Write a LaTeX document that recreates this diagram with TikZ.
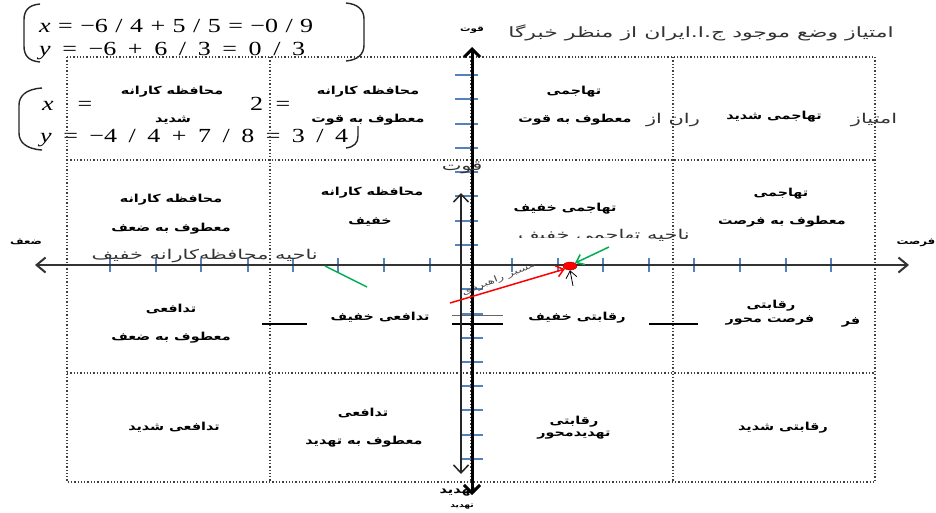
\documentclass[tikz,border=0pt]{standalone}
\usepackage{fontspec}
\TeXXeTstate=1
\newfontfamily\arabicwide[Script=Arabic,FakeStretch=1.3]{DejaVu Sans}
\newfontfamily\arabicplain[Script=Arabic,FakeStretch=1.55]{DejaVu Sans}
\newfontfamily\tnr[FakeStretch=1.3]{Liberation Serif}
\usetikzlibrary{arrows.meta,shapes.geometric}
\newcommand{\RT}[1]{\beginR #1\endR}
\definecolor{tickc}{RGB}{84,130,190}
\definecolor{grn}{RGB}{0,176,80}
\begin{document}
\begin{tikzpicture}[x=1pt,y=-1pt,
  eq/.style={font=\tnr\fontsize{20}{24}\selectfont, inner sep=0, anchor=base west},
  paren/.style={line width=1.4pt, black!85},
  grid/.style={dotted, line width=1.3pt, black!75},
  cell/.style={font=\arabicwide\bfseries\fontsize{11}{13}\selectfont, inner sep=0},
  plain/.style={font=\arabicplain\fontsize{13.5}{15}\selectfont, inner sep=0, black!80},
  tickm/.style={tickc, line width=1.4pt},
  haxis/.style={line width=2pt, black!80, {Straight Barb[length=9pt,width=15pt]}-{Straight Barb[length=9pt,width=15pt]}},
  vthick/.style={line width=3pt, black, {Straight Barb[length=8pt,width=16pt]}-{Straight Barb[length=8pt,width=16pt]}},
  vthin/.style={line width=1.5pt, black!85, {Straight Barb[length=8pt,width=15pt]}-{Straight Barb[length=8pt,width=15pt]}},
  barb/.style={-{Straight Barb[length=7pt,width=11pt]}}
]
\useasboundingbox (0,0) rectangle (936,512);
\fill[white] (0,0) rectangle (936,512);

% equations
\node[eq] (e1a) at (39,32) {\hbox to 274pt{\itshape x\upshape\hfill=\hfill−6\hfill/\hfill4\hfill+\hfill5\hfill/\hfill5\hfill=\hfill−0\hfill/\hfill9}};
\node[eq] (e1b) at (39,55) {\hbox to 266pt{\itshape y\upshape\hfill=\hfill−6\hfill+\hfill6\hfill/\hfill3\hfill=\hfill0\hfill/\hfill3}};
\draw[paren] (40,4) .. controls (28,5) and (24,11) .. (24,20) -- (24,46) .. controls (24,55) and (28,61) .. (40,62);
\draw[paren] (346,3) .. controls (358,4) and (364,10) .. (364,19) -- (364,45) .. controls (364,54) and (358,60) .. (346,61);
\node[eq] (e2x) at (42,110) {\hbox to 50pt{\itshape x\upshape\hfill=}};
\node[eq] (e2t) at (250,110) {\hbox to 40pt{2\hfill=}};
\node[eq] (e2y) at (40,142) {\hbox to 308pt{\itshape y\upshape\hfill=\hfill−4\hfill/\hfill4\hfill+\hfill7\hfill/\hfill8\hfill=\hfill3\hfill/\hfill4}};
\draw[paren] (42,88) .. controls (26,89) and (19,96) .. (19,105) -- (19,133) .. controls (19,142) and (26,149) .. (42,150);
\draw[paren] (358,126) -- (358,136) .. controls (358,143) and (354,147) .. (346,148);
\fill[white] (95,72) rectangle (245,126);
\fill[white] (295,72) rectangle (440,126);

% grid
\draw[grid] (67,57) rectangle (875,482);
\foreach \gx in {270,471,673} \draw[grid] (\gx,57) -- (\gx,482);
\foreach \gy in {160,265,373} \draw[grid] (67,\gy) -- (875,\gy);

% ticks
\foreach \tx in {110,156,201,248,293,338,384,430,512,558,603,649,694,740,786,831}
  \draw[tickm] (\tx,258) -- (\tx,272);
\foreach \ty in {75,99,124,148,172,196,221,245}
  \draw[tickm] (455,\ty) -- (478,\ty);
\foreach \ty in {289,314,338,362,386,410,435,459}
  \draw[tickm] (462,\ty) -- (483,\ty);

% short lines
\draw[black!60, line width=1pt] (452,315) -- (503,315);
\draw[black, line width=1.2pt] (452,324) -- (503,324);
\draw[black, line width=1.2pt] (262,324) -- (307,324);
\draw[black, line width=1.2pt] (649,324) -- (698,324);

% axes
\coordinate (hL) at (35,265);
\coordinate (hR) at (909,265);
\coordinate (vT) at (472,47);
\coordinate (vB) at (472,495);
\coordinate (wT) at (461,193);
\coordinate (wB) at (461,474);
\draw[haxis] (hL) -- (hR);
\draw[vthin] (wT) -- (wB);
\draw[vthick] (vT) -- (vB);

% cell texts
\foreach \nm/\cx/\cy/\ct in {
  c11a/172/92/محافظه کارانه, c11b/173/120/شدید,
  c12a/368/92/محافظه کارانه, c12b/368/120/معطوف به قوت,
  c13a/574/92/تهاجمی, c13b/575/120/معطوف به قوت,
  c14a/774/117/تهاجمی  شدید,
  c21a/171/200/محافظه کارانه, c21b/171/229/معطوف به  ضعف,
  c22a/372/193/محافظه کارانه, c22b/370/222/خفیف,
  c23a/565/209/تهاجمی  خفیف,
  c24a/781/194/تهاجمی, c24b/782/222/معطوف به فرصت,
  c31a/171/309/تدافعی, c31b/171/338/معطوف به  ضعف,
  c32a/380/317/تدافعی  خفیف,
  c33a/577/318/رقابتی  خفیف,
  c34a/771/306/رقابتی, c34b/770/320/فرصت محور, c34c/851/322/فر,
  c41a/174/427/تدافعی  شدید,
  c42a/363/413/تدافعی, c42b/364/442/معطوف به  تهدید,
  c43a/574/422/رقابتی, c43b/574/435/تهدیدمحور,
  c44a/783/428/رقابتی  شدید}
  \node[cell] (\nm) at (\cx,\cy) {\RT{\ct}};

% axis labels
\node[cell, font=\arabicwide\bfseries\fontsize{8}{10}\selectfont] (lq) at (472,30) {\RT{قوت}};
\node[cell, font=\arabicwide\bfseries\fontsize{9}{10}\selectfont] (lz) at (26,242) {\RT{ضعف}};
\node[cell, font=\arabicwide\bfseries\fontsize{9}{10}\selectfont] (lf) at (916,243) {\RT{فرصت}};
\node[cell, font=\arabicwide\bfseries\fontsize{11}{12}\selectfont] (lt1) at (458,492) {\RT{تهدید}};
\node[cell, font=\arabicwide\bfseries\fontsize{7}{9}\selectfont] (lt2) at (462,507) {\RT{تهدید}};
\node[plain] (lq2) at (462,168) {\RT{قوت}};

% plain texts
\node[plain, font=\arabicplain\fontsize{14.2}{16}\selectfont] (title) at (701,33) {\RT{امتیاز وضع موجود ج.ا.ایران از منظر خبرگا}};
\node[plain] (g1) at (673,120) {\RT{ران از}};
\node[plain] (g2) at (874,120) {\RT{امتیاز}};
\node[plain, anchor=east] (nz1) at (318,256) {\RT{ناحیه محافظه‌کارانه خفیف}};
\node[plain, anchor=east] (nz2) at (690,236) {\RT{ناحیه تهاجمی خفیف}};
\fill[white] (505,238) rectangle (637,251);
\node[plain, font=\arabicplain\fontsize{8.5}{10}\selectfont, rotate=22, black!70] (path) at (499,279) {\RT{مسیر راهبردی}};

% point and arrows
\node[ellipse, draw=red!60!black, fill=red, minimum width=14pt, minimum height=8pt, inner sep=0] (dot) at (570,266) {};
\coordinate (rS) at (450,303);
\coordinate (gS) at (609,247);
\coordinate (bS) at (573,286);
\coordinate (l1) at (325,266);
\coordinate (l2) at (367,287);
\draw[red, line width=1.5pt, barb] (rS) -- (dot.south west);
\draw[grn, line width=1.5pt, barb] (gS) -- (dot.north east);
\draw[black, line width=0.8pt, barb] (bS) -- (dot.south);
\draw[grn, line width=1.5pt] (l1) -- (l2);
\end{tikzpicture}
\end{document}
